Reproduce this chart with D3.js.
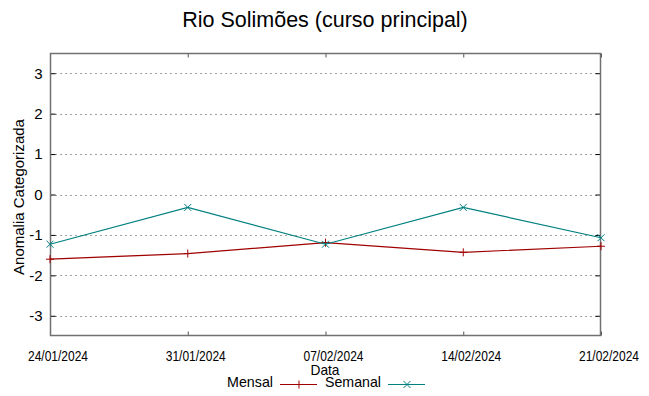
<!DOCTYPE html>
<html lang="pt">
<head>
<meta charset="utf-8">
<script src="https://d3js.org/d3.v7.min.js"></script>
<style type="text/css">
body {
	margin: 0;
	background-color: #ffffff;
	font-family: "Liberation Sans", Arial, sans-serif;
}
</style>
</head>
<body>
<div class="chart"></div>
<script type="text/javascript">
// dados
var datas = ["24/01/2024", "31/01/2024", "07/02/2024", "14/02/2024", "21/02/2024"];
var mensal = [-1.60, -1.46, -1.19, -1.43, -1.28];
var semanal = [-1.23, -0.32, -1.23, -0.32, -1.07];
var yTicks = [-3, -2, -1, 0, 1, 2, 3];
var series = [
	{name: "Mensal", values: mensal, color: "#a00000", marker: "plus"},
	{name: "Semanal", values: semanal, color: "#008080", marker: "cross"}
];

var width = 649, height = 396;
var margin = {left: 50, right: 48, top: 53, bottom: 60};

var svg = d3.select(".chart").append("svg")
	.attr("width", width)
	.attr("height", height);

var parse = d3.timeParse("%d/%m/%Y");
var x = d3.scaleTime()
	.domain([parse(datas[0]), parse(datas[datas.length - 1])])
	.range([margin.left, width - margin.right]);
var y = d3.scaleLinear()
	.domain([-3.5, 3.5])
	.range([height - margin.bottom, margin.top]);

// grade horizontal
svg.append("g")
	.selectAll("line")
	.data(yTicks)
	.enter().append("line")
	.attr("x1", margin.left)
	.attr("x2", width - margin.right)
	.attr("y1", function(d) { return Math.round(y(d)) + 0.5; })
	.attr("y2", function(d) { return Math.round(y(d)) + 0.5; })
	.style("stroke", "#a0a0a0")
	.style("stroke-width", 1)
	.style("stroke-dasharray", "2,3");

// eixo y (ticks para dentro), sinal "-" simples como no gnuplot
var yAxis = d3.axisLeft(y).tickValues(yTicks).tickSizeInner(-5).tickSizeOuter(0)
	.tickPadding(8).tickFormat(function(d) { return String(d); });
var gy = svg.append("g")
	.attr("transform", "translate(" + (margin.left + 0.5) + ",0)")
	.call(yAxis);
gy.select(".domain").remove();
gy.selectAll("line").style("stroke", "#000");
gy.selectAll("text")
	.style("font-size", "15px")
	.style("font-family", "'Liberation Sans', sans-serif")
	.attr("fill", "#000");

var yAxisR = d3.axisRight(y).tickValues(yTicks).tickSizeInner(-5).tickSizeOuter(0).tickFormat("");
var gyr = svg.append("g")
	.attr("transform", "translate(" + (width - margin.right - 0.5) + ",0)")
	.call(yAxisR);
gyr.select(".domain").remove();
gyr.selectAll("line").style("stroke", "#000");

// eixo x
var xTicks = datas.map(parse);
var xAxis = d3.axisBottom(x).tickValues(xTicks).tickSizeInner(-4).tickSizeOuter(0)
	.tickPadding(15.5).tickFormat(d3.timeFormat("%d/%m/%Y"));
var gx = svg.append("g")
	.attr("transform", "translate(0," + (height - margin.bottom - 0.5) + ")")
	.call(xAxis);
gx.select(".domain").remove();
gx.selectAll("line").style("stroke", "#555");
gx.selectAll("text")
	.attr("dx", 7.5)
	.attr("textLength", 60)
	.attr("lengthAdjust", "spacingAndGlyphs")
	.style("font-size", "14px")
	.style("font-family", "'Liberation Sans', sans-serif")
	.attr("fill", "#000");

var xAxisT = d3.axisTop(x).tickValues(xTicks).tickSizeInner(-4).tickSizeOuter(0).tickFormat("");
var gxt = svg.append("g")
	.attr("transform", "translate(0," + (margin.top + 0.5) + ")")
	.call(xAxisT);
gxt.select(".domain").remove();
gxt.selectAll("line").style("stroke", "#555");

// borda
svg.append("rect")
	.attr("x", margin.left + 0.5)
	.attr("y", margin.top + 0.5)
	.attr("width", width - margin.left - margin.right - 1)
	.attr("height", height - margin.top - margin.bottom - 1)
	.style("fill", "none")
	.style("stroke", "#707070")
	.style("stroke-width", 1.5);

// linhas
var line = d3.line()
	.x(function(d, i) { return x(parse(datas[i])); })
	.y(function(d) { return y(d); });

function marker(g, type, cx, cy, color) {
	if (type == "plus") {
		g.append("path")
			.attr("d", "M" + (cx - 4) + "," + cy + "H" + (cx + 4) + "M" + cx + "," + (cy - 4) + "V" + (cy + 4))
			.style("stroke", color).style("stroke-width", 1).style("fill", "none");
	} else {
		g.append("path")
			.attr("d", "M" + (cx - 3.5) + "," + (cy - 3.5) + "L" + (cx + 3.5) + "," + (cy + 3.5) +
				"M" + (cx - 3.5) + "," + (cy + 3.5) + "L" + (cx + 3.5) + "," + (cy - 3.5))
			.style("stroke", color).style("stroke-width", 1).style("fill", "none");
	}
}

series.forEach(function(s) {
	var g = svg.append("g");
	g.append("path")
		.datum(s.values)
		.attr("d", line)
		.style("fill", "none")
		.style("stroke", s.color)
		.style("stroke-width", 1.2);
	s.values.forEach(function(v, i) {
		marker(g, s.marker, x(parse(datas[i])), y(v), s.color);
	});
});

// titulo
svg.append("text")
	.attr("x", 325)
	.attr("y", 27)
	.attr("text-anchor", "middle")
	.style("font-size", "21.5px")
	.style("font-family", "'Liberation Sans', sans-serif")
	.text("Rio Solimões (curso principal)");

// rotulo eixo y
svg.append("text")
	.attr("transform", "translate(24,197)rotate(-90)")
	.attr("text-anchor", "middle")
	.style("font-size", "15px")
	.style("font-family", "'Liberation Sans', sans-serif")
	.text("Anomalia Categorizada");

// rotulo eixo x
svg.append("text")
	.attr("x", 325)
	.attr("y", 375)
	.attr("text-anchor", "middle")
	.attr("textLength", 29)
	.attr("lengthAdjust", "spacingAndGlyphs")
	.style("font-size", "15px")
	.text("Data");

// legenda
var legX = [273, 381];
var legW = [46, 56];
series.forEach(function(s, i) {
	var lx = legX[i];
	svg.append("text")
		.attr("x", lx - legW[i])
		.attr("y", 387)
		.attr("textLength", legW[i])
		.attr("lengthAdjust", "spacingAndGlyphs")
		.style("font-size", "15px")
		.text(s.name);
	svg.append("line")
		.attr("x1", lx + 7).attr("x2", lx + 44)
		.attr("y1", 384.5).attr("y2", 384.5)
		.style("stroke", s.color).style("stroke-width", 1.2);
	var lg = svg.append("g");
	marker(lg, s.marker, lx + 26, 384.5, s.color);
});
</script>
</body>
</html>
